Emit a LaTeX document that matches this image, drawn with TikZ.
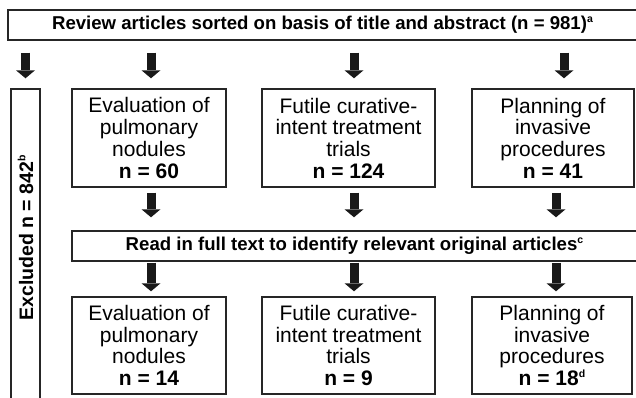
\documentclass[tikz,border=0pt]{standalone}
\usepackage{fontspec}
\setsansfont{Liberation Sans}
\usetikzlibrary{arrows.meta}
\newcommand{\fnmark}[1]{\raisebox{0.75ex}{\fontsize{10.5}{11}\selectfont #1}}

\begin{document}
\begin{tikzpicture}[
  x=1pt, y=-1pt,
  font=\sffamily\fontsize{21}{21.7}\selectfont,
  box/.style={draw=black!85, line width=1.4pt, align=center, inner sep=0pt,
              minimum height=98pt},
  bar/.style={draw=black!85, line width=1.4pt, inner sep=0pt, minimum height=30pt,
              font=\sffamily\bfseries\fontsize{18.6}{20}\selectfont},
  arr/.style={-{Triangle[width=19pt,length=8pt,line width=0pt]}, draw=black!90,
              line width=9pt},
  lab/.style={font=\sffamily\bfseries\fontsize{19.5}{21}\selectfont}
]
\useasboundingbox (0,0) rectangle (636,398);

\node[bar, minimum width=629pt] (top) at (322.5,25)
  {Review articles sorted on basis of title and abstract (n = 981)\fnmark{a}};

\node[box, minimum width=154pt] (e1) at (149,138)
  {Evaluation of\\pulmonary\\nodules\\\textbf{n = 60}};
\node[box, minimum width=173pt] (f1) at (348.5,138)
  {Futile curative-\\intent treatment\\trials\\\textbf{n = 124}};
\node[box, minimum width=162pt] (p1) at (553,138)
  {Planning of\\invasive\\procedures\\\textbf{n = 41}};

\node[bar, minimum width=565pt] (read) at (354.5,246)
  {Read in full text to identify relevant original articles\fnmark{c}};

\node[box, minimum width=154pt, minimum height=97pt] (e2) at (149,345.5)
  {Evaluation of\\pulmonary\\nodules\\\textbf{n = 14}};
\node[box, minimum width=173pt, minimum height=97pt] (f2) at (348.5,345.5)
  {Futile curative-\\intent treatment\\trials\\\textbf{n = 9}};
\node[box, minimum width=160pt, minimum height=97pt] (p2) at (552,345.5)
  {Planning of\\invasive\\procedures\\\textbf{n = 18\fnmark{d}}};

% excluded column runs off the bottom
\node[box, minimum width=29pt, minimum height=330pt] (excl) at (25.5,254) {};
\node[lab, rotate=90] (excltext) at (25.5,238) {Excluded n = 842\fnmark{b}};

\coordinate (a1) at (151,0);
\coordinate (a2) at (354,0);
\coordinate (a3) at (564,0);
\coordinate (b1) at (151,0);
\coordinate (b2) at (354,0);
\coordinate (b3) at (556,0);

\draw[arr, shorten <=12pt, shorten >=10pt] (top.south -| excl.north) -- (excl.north);
\draw[arr, shorten <=12pt, shorten >=10pt] (top.south -| a1) -- (e1.north -| a1);
\draw[arr, shorten <=12pt, shorten >=10pt] (top.south -| a2) -- (f1.north -| a2);
\draw[arr, shorten <=12pt, shorten >=10pt] (top.south -| a3) -- (p1.north -| a3);

\draw[arr, shorten <=5pt, shorten >=13pt] (e1.south -| b1) -- (read.north -| b1);
\draw[arr, shorten <=5pt, shorten >=13pt] (f1.south -| b2) -- (read.north -| b2);
\draw[arr, shorten <=5pt, shorten >=13pt] (p1.south -| b3) -- (read.north -| b3);

\draw[arr, shorten <=1pt, shorten >=5pt] (read.south -| b1) -- (e2.north -| b1);
\draw[arr, shorten <=1pt, shorten >=5pt] (read.south -| b2) -- (f2.north -| b2);
\draw[arr, shorten <=1pt, shorten >=5pt] (read.south -| b3) -- (p2.north -| b3);
\end{tikzpicture}
\end{document}
